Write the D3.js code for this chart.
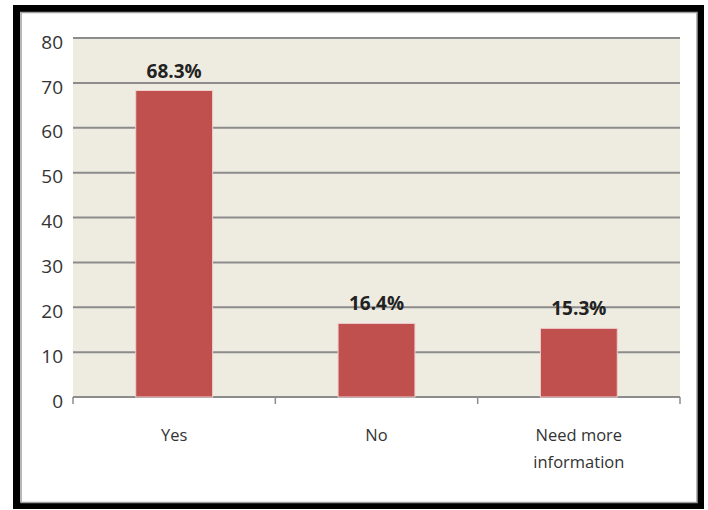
<!DOCTYPE html>
<html>
<head>
<meta charset="utf-8">
<script src="https://cdn.jsdelivr.net/npm/d3@7"></script>
<style>
  body { margin: 0; background: #fff; }
  svg { display: block; }
</style>
</head>
<body>
<div class="container"></div>
<script>
/* Data */
const categories = ['Yes', 'No', 'Need more information'];
const values = [68.3, 16.4, 15.3];
const valueLabels = ['68.3%', '16.4%', '15.3%'];
const yTicks = [0, 10, 20, 30, 40, 50, 60, 70, 80];

/* Layout */
const width = 708;
const height = 510;
const plot = { left: 73, right: 680, top: 38, bottom: 397 };

/* Colors */
const barColor = '#C0504D';
const plotBg = '#EEECE1';
const gridColor = '#8c8c8c';
const textColor = '#333';

const svg = d3.select('.container')
    .append('svg')
    .attr('width', width)
    .attr('height', height);

// outer frame
svg.append('rect')
    .attr('x', 16.5).attr('y', 8.5)
    .attr('width', 684).attr('height', 497)
    .attr('fill', '#fff')
    .attr('stroke', '#000')
    .attr('stroke-width', 7);
svg.append('rect')
    .attr('x', 21).attr('y', 12.5)
    .attr('width', 676).attr('height', 490)
    .attr('fill', 'none')
    .attr('stroke', '#a0a0a0')
    .attr('stroke-width', 1.5);

const x = d3.scaleBand()
    .domain(categories)
    .range([plot.left, plot.right])
    .padding(0);
const y = d3.scaleLinear()
    .domain([0, 80])
    .range([plot.bottom, plot.top]);

const barWidth = x.bandwidth() * 0.38;

// plot background
svg.append('rect')
    .attr('x', plot.left).attr('y', plot.top)
    .attr('width', plot.right - plot.left)
    .attr('height', plot.bottom - plot.top)
    .attr('fill', plotBg);

// gridlines
svg.selectAll('.grid')
    .data(yTicks)
    .enter()
    .append('line')
    .attr('class', 'grid')
    .attr('x1', plot.left).attr('x2', plot.right)
    .attr('y1', d => y(d)).attr('y2', d => y(d))
    .attr('stroke', gridColor)
    .attr('stroke-width', 2);

// y labels
svg.selectAll('.ylabel')
    .data(yTicks)
    .enter()
    .append('text')
    .attr('class', 'ylabel')
    .attr('x', 63)
    .attr('y', d => y(d) + 4)
    .attr('dy', '0.35em')
    .attr('text-anchor', 'end')
    .attr('font-family', 'Open Sans, sans-serif')
    .attr('font-size', 19)
    .attr('fill', textColor)
    .text(d => d);

// bars
svg.selectAll('.bar')
    .data(values)
    .enter()
    .append('rect')
    .attr('class', 'bar')
    .attr('x', (d, i) => x(categories[i]) + (x.bandwidth() - barWidth) / 2)
    .attr('y', d => y(d))
    .attr('width', barWidth)
    .attr('height', d => y(0) - y(d))
    .attr('fill', barColor)
    .attr('stroke', '#f0d0cf')
    .attr('stroke-width', 1);

// x axis ticks at category boundaries
const boundaries = categories.map(c => x(c)).concat([plot.right]);
svg.selectAll('.xtick')
    .data(boundaries)
    .enter()
    .append('line')
    .attr('x1', d => d).attr('x2', d => d)
    .attr('y1', plot.bottom).attr('y2', plot.bottom + 7)
    .attr('stroke', gridColor)
    .attr('stroke-width', 1.5);

// value labels
svg.selectAll('.vlabel')
    .data(values)
    .enter()
    .append('text')
    .attr('x', (d, i) => x(categories[i]) + x.bandwidth() / 2)
    .attr('y', d => y(d) - 13)
    .attr('text-anchor', 'middle')
    .attr('font-family', 'Open Sans, sans-serif')
    .attr('font-weight', 'bold')
    .attr('font-size', 19)
    .attr('fill', '#222')
    .text((d, i) => valueLabels[i]);

// x labels (wrapped)
const xLines = [['Yes'], ['No'], ['Need more', 'information']];
svg.selectAll('.xlabel')
    .data(categories)
    .enter()
    .append('text')
    .attr('class', 'xlabel')
    .attr('text-anchor', 'middle')
    .attr('font-family', 'Open Sans, sans-serif')
    .attr('font-size', 16.5)
    .attr('fill', textColor)
    .each(function (d, i) {
        const t = d3.select(this);
        xLines[i].forEach((line, j) => {
            t.append('tspan')
                .attr('x', x(d) + x.bandwidth() / 2)
                .attr('y', 441 + j * 27)
                .text(line);
        });
    });
</script>
</body>
</html>
